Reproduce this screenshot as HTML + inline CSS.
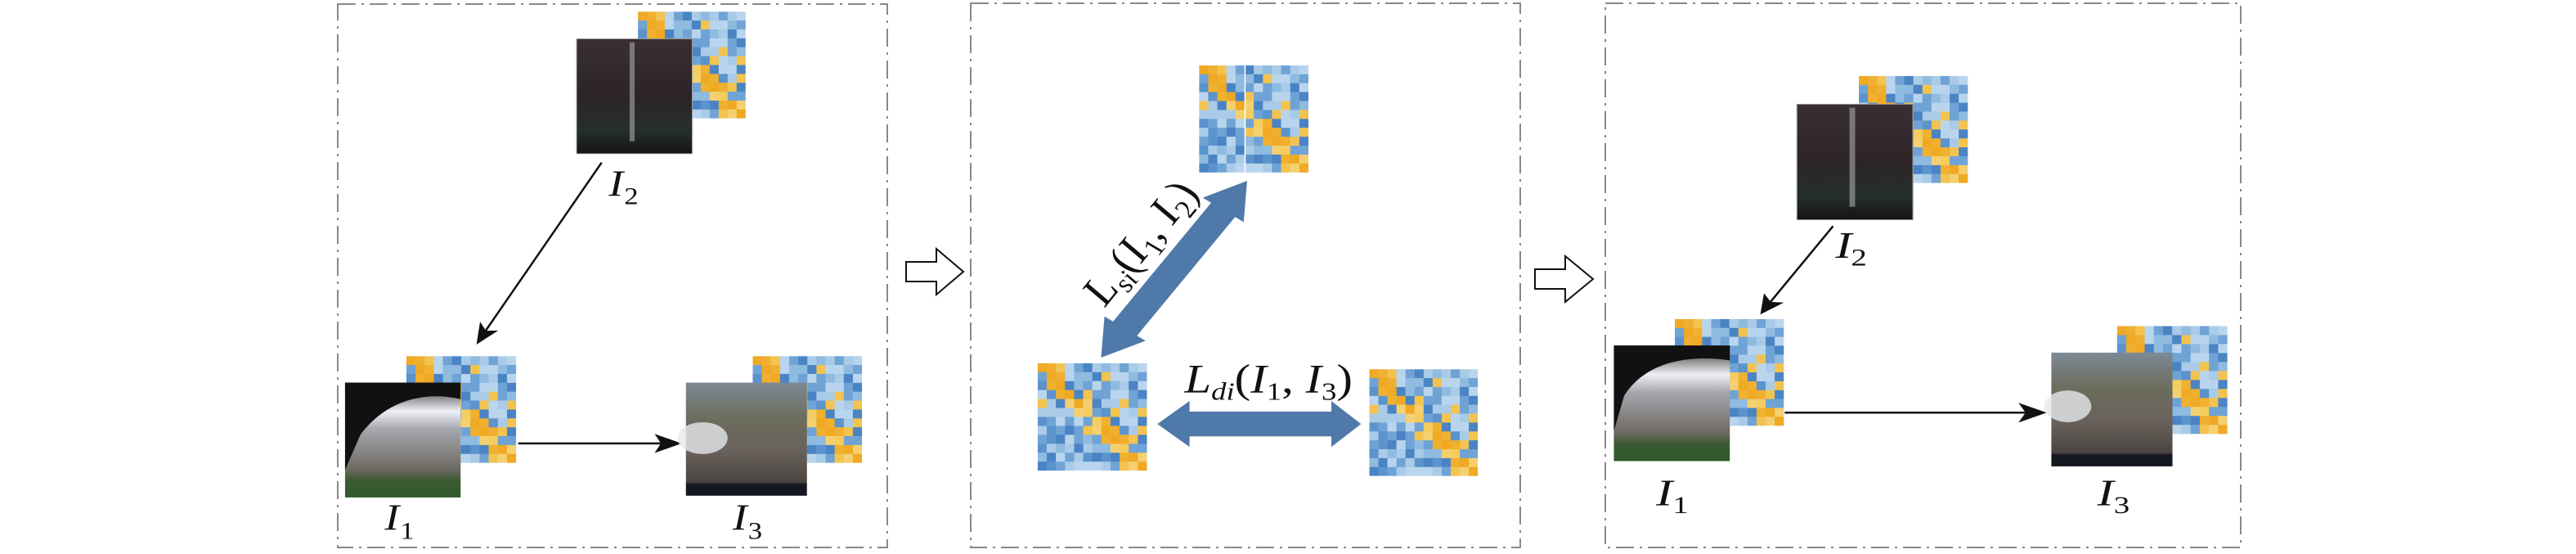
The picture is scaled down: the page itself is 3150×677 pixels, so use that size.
<!DOCTYPE html>
<html><head><meta charset="utf-8">
<style>
html,body{margin:0;padding:0;background:#fff;}
body{width:3150px;height:677px;position:relative;overflow:hidden;}
svg{position:absolute;left:0;top:0;}
text{font-family:"Liberation Serif",serif;fill:#111;}
</style></head>
<body>
<svg id="main" width="3150" height="677" viewBox="0 0 3150 1568" preserveAspectRatio="none">
<defs>
<symbol id="M" viewBox="0 0 12 12" preserveAspectRatio="none">
<g id="mcells"><rect x="0" y="0" width="12" height="12" fill="#8fbbe0"/></g>
</symbol>
<linearGradient id="g2" x1="0" y1="0" x2="0" y2="1">
<stop offset="0" stop-color="#3a3034"/><stop offset="0.5" stop-color="#2c2427"/><stop offset="0.8" stop-color="#26302a"/><stop offset="1" stop-color="#141214"/></linearGradient>
<linearGradient id="g1" x1="0" y1="0" x2="0" y2="1">
<stop offset="0" stop-color="#222"/><stop offset="0.25" stop-color="#eef0f4"/><stop offset="0.4" stop-color="#a8a8b0"/><stop offset="0.75" stop-color="#6e6a64"/><stop offset="0.85" stop-color="#3d5a32"/><stop offset="1" stop-color="#2e5a2a"/></linearGradient>
<linearGradient id="g3" x1="0" y1="0" x2="0" y2="1">
<stop offset="0" stop-color="#7d8a95"/><stop offset="0.3" stop-color="#6c6e5e"/><stop offset="0.6" stop-color="#6a625c"/><stop offset="0.88" stop-color="#4a4440"/><stop offset="0.9" stop-color="#151820"/><stop offset="1" stop-color="#151820"/></linearGradient>
</defs>

<!-- Panel 1 -->
<g transform="translate(400,0) scale(0.5102,1)">
<use href="#M" x="745" y="33" width="258" height="302"/>
<rect x="598" y="110" width="277" height="325" fill="url(#g2)" stroke="#999" stroke-width="2"/>
<rect x="725" y="120" width="12" height="280" fill="#aaa" opacity="0.6"/>
<line x1="658" y1="460" x2="380" y2="936" stroke="#111" stroke-width="2.5" vector-effect="non-scaling-stroke"/>
<polygon points="358,975 409.8,935.8 380.6,936.1 366.6,910.6" fill="#111"/>
<text x="675" y="555" font-size="105" font-style="italic">I</text><text x="712" y="578" font-size="68">2</text>

<use href="#M" x="190" y="1008" width="263" height="302"/>
<rect x="43" y="1083" width="277" height="325" fill="url(#g1)"/>
<path d="M43,1083 H320 V1130 C250,1110 150,1120 80,1230 L43,1330 Z" fill="#111"/>
<line x1="458" y1="1255" x2="800" y2="1255" stroke="#111" stroke-width="2.5" vector-effect="non-scaling-stroke"/>
<polygon points="850,1255 785,1228 800,1255 785,1282" fill="#111"/>
<use href="#M" x="1020" y="1008" width="262" height="302"/>
<rect x="860" y="1083" width="290" height="320" fill="url(#g3)"/>
<ellipse cx="900" cy="1240" rx="60" ry="45" fill="#e6e8ec" opacity="0.8"/>
<text x="138" y="1500" font-size="105" font-style="italic">I</text><text x="175" y="1525" font-size="68">1</text>
<text x="972" y="1500" font-size="105" font-style="italic">I</text><text x="1009" y="1525" font-size="68">3</text>
</g>

<!-- Panel 2 -->
<g transform="translate(1150,0) scale(0.5102,1)">
<use href="#M" x="620" y="185" width="262" height="303"/>
<line x1="730" y1="185" x2="730" y2="488" stroke="#fff" stroke-width="3"/>
<use href="#M" x="233" y="1028" width="262" height="304"/>
<use href="#M" x="1028" y="1045" width="260" height="302"/>
<polygon points="385,1012 491.6,964.4 471.1,950.1 706.3,614.1 726.8,628.4 735,512 628.4,559.6 648.9,573.9 413.7,909.9 393.2,895.6" fill="#4f79a8"/>
<polygon points="520,1200 597,1135 597,1165 937,1165 937,1135 1008,1200 937,1265 937,1235 597,1235 597,1265" fill="#4f79a8"/>
<g transform="translate(395,870) rotate(-55)">
<text x="0" y="0" font-size="115" font-style="italic">L<tspan font-size="72" dy="22">si</tspan><tspan font-size="115" dy="-22" font-style="normal">(</tspan>I<tspan font-size="72" dy="22" font-style="normal">1</tspan><tspan font-size="115" dy="-22" font-style="normal">, </tspan>I<tspan font-size="72" dy="22" font-style="normal">2</tspan><tspan font-size="115" dy="-22" font-style="normal">)</tspan></text>
</g>
<text x="585" y="1110" font-size="115" font-style="italic">L<tspan font-size="72" dy="22">di</tspan><tspan font-size="115" dy="-22" font-style="normal">(</tspan>I<tspan font-size="72" dy="22" font-style="normal">1</tspan><tspan font-size="115" dy="-22" font-style="normal">, </tspan>I<tspan font-size="72" dy="22" font-style="normal">3</tspan><tspan font-size="115" dy="-22" font-style="normal">)</tspan></text>
</g>

<!-- Panel 3 -->
<g transform="translate(1900,0) scale(0.574,1)">
<use href="#M" x="650" y="215" width="232" height="303"/>
<rect x="518" y="295" width="247" height="327" fill="url(#g2)" stroke="#999" stroke-width="2"/>
<rect x="630" y="305" width="12" height="280" fill="#aaa" opacity="0.6"/>
<line x1="595" y1="640" x2="462" y2="854" stroke="#111" stroke-width="2.5" vector-effect="non-scaling-stroke"/>
<polygon points="440,890 490.2,856.5 462.1,854.3 447.8,830.1" fill="#111"/>
<text x="600" y="730" font-size="105" font-style="italic">I</text><text x="633" y="752" font-size="68">2</text>
<use href="#M" x="258" y="903" width="232" height="302"/>
<rect x="128" y="978" width="247" height="327" fill="url(#g1)"/>
<path d="M128,978 H375 V1020 C300,1005 200,1015 150,1120 L128,1220 Z" fill="#111"/>
<line x1="492" y1="1168" x2="1005" y2="1168" stroke="#111" stroke-width="2.5" vector-effect="non-scaling-stroke"/>
<polygon points="1050,1168 990,1140 1005,1168 990,1196" fill="#111"/>
<use href="#M" x="1200" y="923" width="235" height="305"/>
<rect x="1060" y="998" width="258" height="322" fill="url(#g3)"/>
<ellipse cx="1095" cy="1150" rx="50" ry="45" fill="#e6e8ec" opacity="0.8"/>
<text x="218" y="1430" font-size="105" font-style="italic">I</text><text x="253" y="1452" font-size="68">1</text>
<text x="1158" y="1430" font-size="105" font-style="italic">I</text><text x="1193" y="1452" font-size="68">3</text>
</g>
</svg>

<svg width="3150" height="677" viewBox="0 0 3150 677">
<g fill="none" stroke="#888" stroke-width="2" stroke-dasharray="22 7 3 7">
<rect x="413" y="5" width="672" height="664"/>
<rect x="1187" y="4" width="672" height="665"/>
<rect x="1963" y="4" width="777" height="665"/>
</g>
<polygon points="1108,320 1145,320 1145,304 1178,332 1145,360 1145,344 1108,344" fill="#fff" stroke="#111" stroke-width="2"/>
<polygon points="1877,329 1914,329 1914,313 1948,341 1914,369 1914,353 1877,353" fill="#fff" stroke="#111" stroke-width="2"/>
</svg>

<script>
(function(){
var g=document.getElementById('mcells');var ns="http://www.w3.org/2000/svg";
var blues=["#a9cbe8","#8fbbe0","#6fa3d5","#5b93cc","#4a84c4","#b9d5ee"];
var s=7;function r(){s=(s*9301+49297)%233280;return s/233280;}
for(var i=0;i<12;i++)for(var j=0;j<12;j++){
var c=blues[Math.floor(r()*blues.length)];
var d=Math.abs(i-j);
if(d==0)c=(r()<0.7)?"#efa923":"#f5cc5e";
else if(d==1&&r()<0.55)c=(r()<0.5)?"#f0b030":"#f5d070";
else if(r()<0.08)c="#f3c350";
var e=document.createElementNS(ns,"rect");
e.setAttribute("x",j);e.setAttribute("y",i);e.setAttribute("width",1.02);e.setAttribute("height",1.02);e.setAttribute("fill",c);g.appendChild(e);}
})();
</script>
</body></html>
